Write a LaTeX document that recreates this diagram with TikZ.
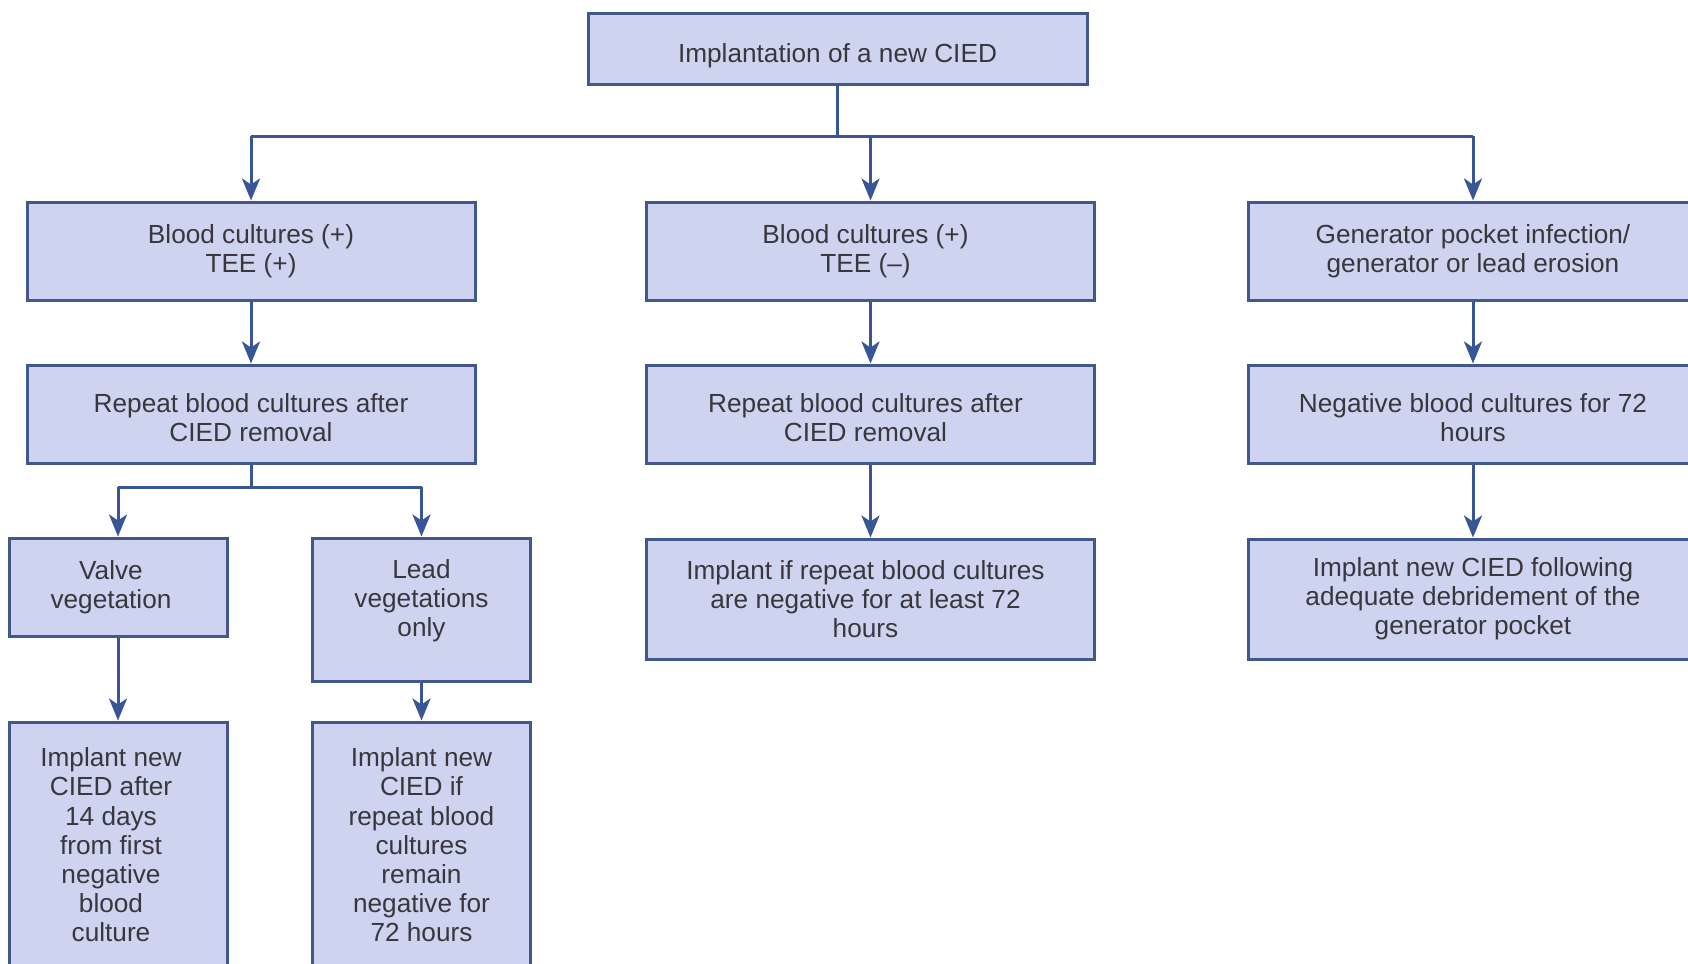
\documentclass[tikz,border=0pt]{standalone}
\usepackage{fontspec}
\setmainfont{Liberation Sans}
\usetikzlibrary{arrows.meta}
\definecolor{boxfill}{RGB}{206,211,240}
\definecolor{boxline}{RGB}{66,88,140}
\definecolor{linkcol}{RGB}{56,86,150}
\definecolor{txt}{RGB}{55,55,60}
\begin{document}
\begin{tikzpicture}[x=0.5pt,y=-0.5pt,
  boxtext/.style={align=center, inner sep=0pt, text=txt,
    font=\fontsize{13.1}{14.6}\selectfont},
  midtext/.style={boxtext, xshift=-2.5pt},
  box/.style={boxtext, draw=boxline, line width=1.5pt, fill=boxfill, rectangle},
  widebox/.style={box, minimum width=224pt, minimum height=49pt},
  tallbox/.style={box, minimum width=224pt, minimum height=60pt},
  narrowbox/.style={box, minimum width=109pt},
  link/.style={draw=linkcol, line width=1.5pt},
  arr/.style={link, -{Stealth[length=11pt,width=9pt,inset=3pt]}}]
\useasboundingbox (0,0) rectangle (1688,964);
\clip (0,0) rectangle (1688,964);
\fill[white] (0,0) rectangle (1688,964);

% root
\node[box, minimum width=249.5pt, minimum height=35.5pt,
  label={[boxtext, yshift=-3.5pt]center:Implantation of a new CIED}] (top) at (837.5,48.5) {};

% first row
\node[widebox] (l1) at (251,251) {Blood cultures (+)\\TEE (+)};
\node[widebox, label={[midtext]center:{Blood cultures (+)\\TEE (--)}}]
  (m1) at (870.5,251) {};
\node[widebox, minimum width=225pt] (r1) at (1473,251)
  {Generator pocket infection/\\generator or lead erosion};

% second row
\node[widebox, label={[boxtext, yshift=-2pt]center:{Repeat blood cultures after\\CIED removal}}]
  (l2) at (251,414) {};
\node[widebox, label={[midtext, yshift=-2pt]center:{Repeat blood cultures after\\CIED removal}}]
  (m2) at (870.5,414) {};
\node[widebox, minimum width=225pt,
  label={[boxtext, yshift=-2pt]center:{Negative blood cultures for 72\\hours}}]
  (r2) at (1473,414) {};

% third row
\node[tallbox, label={[midtext]center:{Implant if repeat blood cultures\\are negative for at least 72\\hours}}]
  (m3) at (870.5,599) {};
\node[tallbox, minimum width=225pt] (r3) at (1473,599)
  {Implant new CIED following\\adequate debridement of the\\generator pocket};

% left branch
\node[narrowbox, minimum height=49pt,
  label={[boxtext, xshift=-3.5pt]center:{Valve\\vegetation}}] (valve) at (118,587) {};
\node[narrowbox, minimum height=71.5pt,
  label={[boxtext, yshift=4.3pt]center:{Lead\\vegetations\\only}}]
  (lead) at (421.5,609.5) {};
\node[narrowbox, minimum height=123pt,
  label={[boxtext, xshift=-3.5pt]center:{Implant new\\CIED after\\14 days\\from first\\negative\\blood\\culture}}]
  (valve2) at (118,845) {};
\node[narrowbox, minimum height=123pt] (lead2) at (421.5,845)
  {Implant new\\CIED if\\repeat blood\\cultures\\remain\\negative for\\72 hours};

% connectors from the root
\coordinate (hub) at (top.south |- 0,136);
\draw[link] (top.south) -- (hub);
\draw[link] (l1.north |- hub) -- (r1.north |- hub);
\draw[arr] (l1.north |- hub) -- (l1.north);
\draw[arr] (m1.north |- hub) -- (m1.north);
\draw[arr] (r1.north |- hub) -- (r1.north);

% column links
\draw[arr] (l1) -- (l2);
\draw[arr] (m1) -- (m2);
\draw[arr] (m2) -- (m3);
\draw[arr] (r1) -- (r2);
\draw[arr] (r2) -- (r3);

% split after the left repeat cultures
\coordinate (split) at (l2.south |- 0,487);
\draw[link] (l2.south) -- (split);
\draw[link] (valve.north |- split) -- (lead.north |- split);
\draw[arr] (valve.north |- split) -- (valve.north);
\draw[arr] (lead.north |- split) -- (lead.north);
\draw[arr] (valve) -- (valve2);
\draw[arr] (lead) -- (lead2);
\end{tikzpicture}
\end{document}
